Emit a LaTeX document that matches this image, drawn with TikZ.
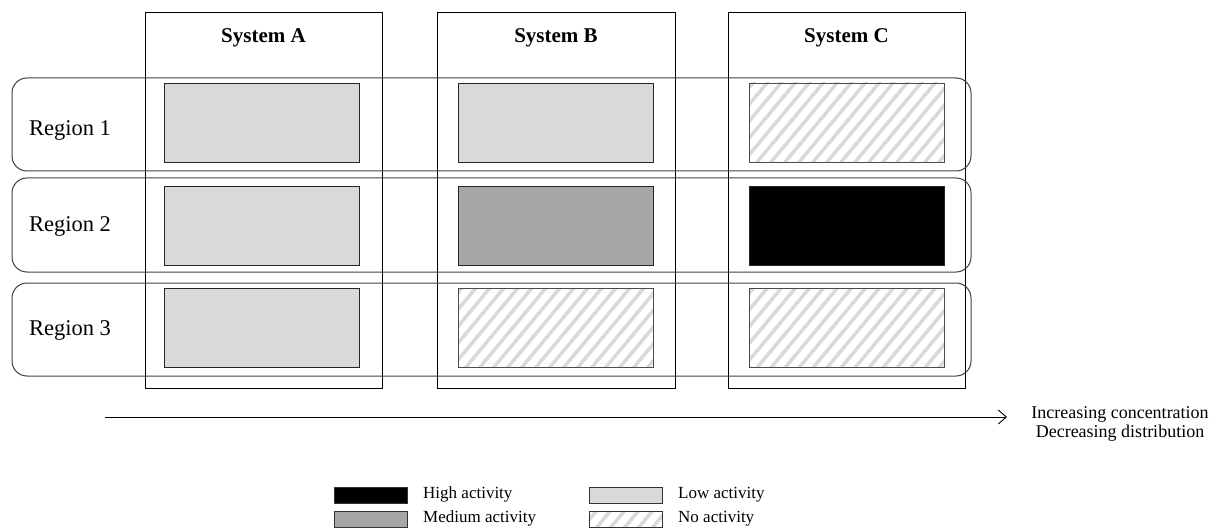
\documentclass[tikz,border=0pt]{standalone}
\usepackage{fontspec}
\setmainfont{Liberation Serif}
\usetikzlibrary{calc,arrows.meta}
\definecolor{lowgray}{HTML}{D9D9D9}
\definecolor{medgray}{HTML}{A6A6A6}
\definecolor{hatchgray}{HTML}{D9D9D9}
\tikzset{
  column/.style={draw=black, line width=0.8pt},
  regionbox/.style={draw=black!75, line width=1pt, rounded corners=15pt},
  cell/.style={draw=black!85, line width=0.8pt, minimum width=195pt, minimum height=79pt, inner sep=0pt},
  low/.style={cell, fill=lowgray},
  medium/.style={cell, fill=medgray},
  high/.style={cell, fill=black},
  none/.style={cell, draw=black!70, fill=white, path picture={
      \foreach \i in {-20,...,30}
        \draw[hatchgray, line width=3.5pt]
          ($(path picture bounding box.south west)+(\i*14pt-120pt,-2pt)$) -- ++(125pt,150pt);
    }},
  headtxt/.style={font=\fontsize{21}{25}\selectfont\bfseries},
  regtxt/.style={font=\fontsize{22.5}{26}\selectfont, anchor=center},
  legtxt/.style={font=\fontsize{17}{20}\selectfont, anchor=west, inner sep=0pt},
  legbox/.style={draw=black!80, line width=0.8pt, minimum width=73pt, minimum height=16pt, inner sep=0pt},
}
\begin{document}
\begin{tikzpicture}[x=1pt,y=-1pt]
\useasboundingbox (0,0) rectangle (1216,532);

% system columns
\draw[column] (145,12) rectangle (382,388);
\draw[column] (437,12) rectangle (675,388);
\draw[column] (728,12) rectangle (965,388);
\node[headtxt] (hA) at (263.5,38) {System A};
\node[headtxt] (hB) at (556,38) {System B};
\node[headtxt] (hC) at (846.5,38) {System C};

% region rows
\draw[regionbox] (12,78) rectangle (971,171);
\draw[regionbox] (12,178) rectangle (971,272);
\draw[regionbox] (12,283) rectangle (971,376);
\node[regtxt] (r1) at (70,130) {Region 1};
\node[regtxt] (r2) at (70,226) {Region 2};
\node[regtxt] (r3) at (70,330) {Region 3};

% activity cells
\node[low]    (a1) at (262,122.5) {};
\node[low]    (b1) at (555.5,122.5) {};
\node[none]   (c1) at (847,122.5) {};
\node[low]    (a2) at (262,226) {};
\node[medium] (b2) at (555.5,226) {};
\node[high]   (c2) at (847,226) {};
\node[low]    (a3) at (262,328) {};
\node[none]   (b3) at (555.5,328) {};
\node[none]   (c3) at (847,328) {};

% trend arrow
\coordinate (arrS) at (105,417);
\coordinate (arrE) at (1007,417);
\draw[line width=0.9pt, -{Straight Barb[length=8pt,width=14pt]}] (arrS) -- (arrE);
\node[font=\fontsize{18}{19}\selectfont, align=center, anchor=center] (trend) at (1120,424)
  {Increasing concentration\\Decreasing distribution};

% legend
\node[legbox, fill=black]   (kH) at (370.5,495.5) {};
\node[legbox, fill=medgray] (kM) at (370.5,519.5) {};
\node[legbox, fill=lowgray] (kL) at (625.5,495.5) {};
\node[legbox, none, minimum width=73pt, minimum height=16pt, draw=black!80] (kN) at (625.5,519.5) {};
\node[legtxt] (tH) at (423,494) {High activity};
\node[legtxt] (tM) at (423,518) {Medium activity};
\node[legtxt] (tL) at (678,495) {Low activity};
\node[legtxt] (tN) at (678,519) {No activity};
\end{tikzpicture}
\end{document}
